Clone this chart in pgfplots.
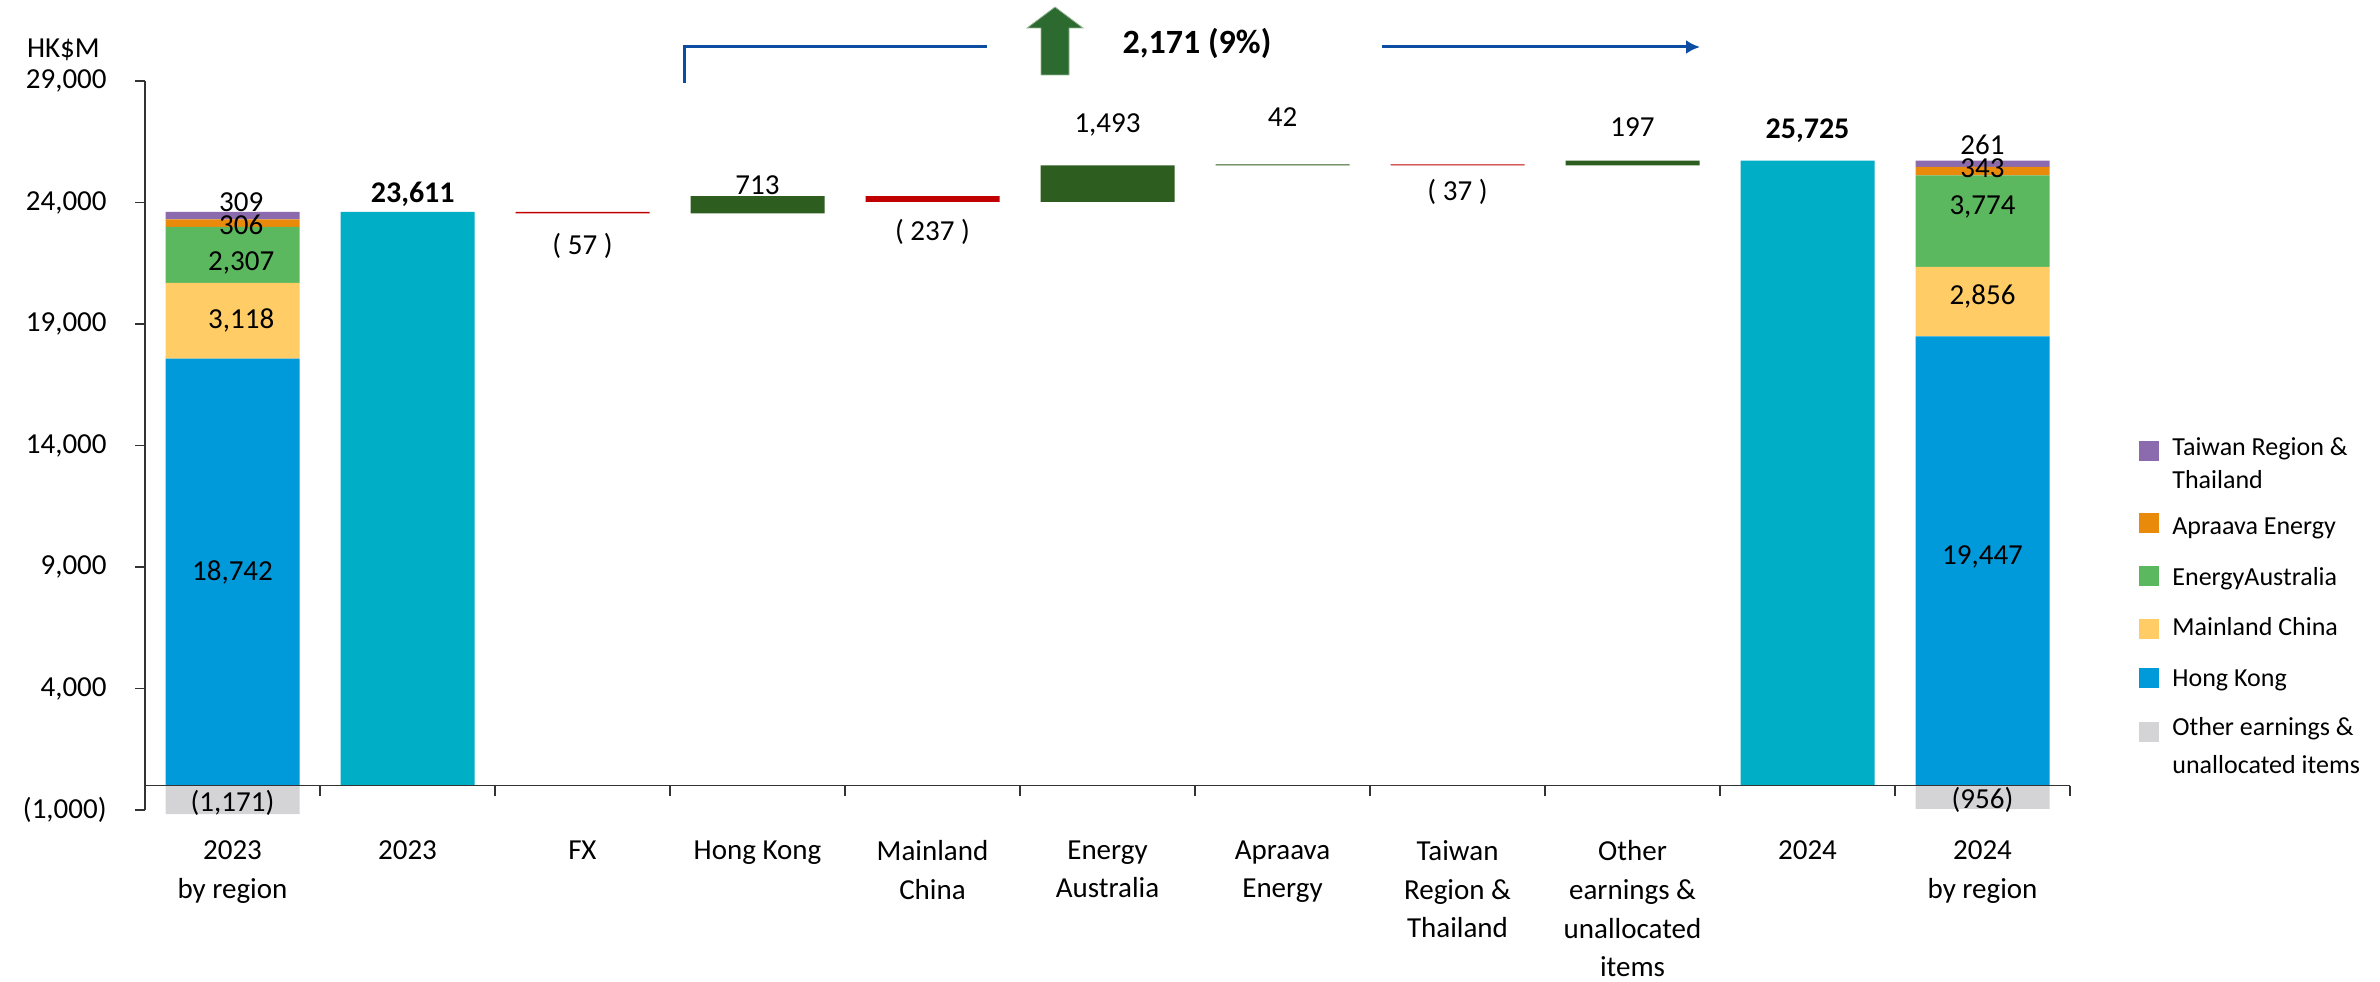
\documentclass[border=0pt]{standalone}
\usepackage{pgfplots}
\pgfplotsset{compat=1.18}
\usetikzlibrary{arrows.meta}
\usepackage{fontspec}
\setmainfont{Carlito}

\definecolor{totalteal}{HTML}{00AEC6}
\definecolor{hkblue}{HTML}{009ADA}
\definecolor{mcyellow}{HTML}{FFCC66}
\definecolor{eagreen}{HTML}{5CB85E}
\definecolor{aporange}{HTML}{EA8A0B}
\definecolor{twpurple}{HTML}{8B6BAD}
\definecolor{othgray}{HTML}{D4D4D6}
\definecolor{upgreen}{HTML}{2E5E1F}
\definecolor{downred}{HTML}{C00000}
\definecolor{arrowblue}{HTML}{0D4DA1}
\definecolor{arrowgreen}{HTML}{2C6A2F}

\newcommand{\lab}{\fontsize{14.5}{17}\selectfont}
\newcommand{\blab}{\fontsize{15}{18}\selectfont\bfseries}

\begin{document}
\begin{tikzpicture}[x=1pt,y=1pt]
\useasboundingbox (0,0) rectangle (1190,490.5);

\pgfplotsset{
  wf/.style={
    width=962.5pt, height=364.5pt, scale only axis,
    at={(72.5pt,85.5pt)}, anchor=south west,
    xmin=-0.5, xmax=10.5, ymin=-1000, ymax=29000,
    clip=false,
  },
}

% negative "other earnings" parts, below zero
\begin{axis}[wf, hide axis, ybar, bar width=67pt, bar shift=0pt]
  \addplot[fill=othgray, draw=none] coordinates {(0,-1171) (10,-956)};
\end{axis}

\begin{axis}[wf,
    ybar stacked, bar width=67pt,
    axis y line*=left, axis x line*=bottom,
    x axis line style={draw=none},
    y axis line style={line width=0.6pt, black!80},
    tick align=outside,
    major tick length=5pt,
    scaled y ticks=false,
    ytick={-1000,4000,9000,14000,19000,24000,29000},
    yticklabels={{(1,000)},{4,000},{9,000},{14,000},{19,000},{24,000},{29,000}},
    ytick style={line width=0.6pt, black!80},
    yticklabel style={font=\lab, inner sep=0pt, xshift=-14pt},
    xtick={0,...,10},
    xtick style={draw=none},
    xticklabels={{2023\\by region},{2023},{FX},{Hong Kong},{Mainland\\China},
      {Energy\\Australia},{Apraava\\Energy},{Taiwan\\Region \&\\Thailand},
      {Other\\earnings \&\\unallocated\\items},{2024},{2024\\by region}},
    xticklabel style={font=\fontsize{14.5}{19.4}\selectfont, align=center,
      inner sep=0pt, anchor=north, yshift=-10pt},
  ]
  % invisible base of the floating bars
  \addplot[fill=none, draw=none] coordinates {
    (0,0) (1,0) (2,23554) (3,23554) (4,24030) (5,24030)
    (6,25523) (7,25528) (8,25528) (9,0) (10,0)};
  % increases
  \addplot[fill=upgreen, draw=none] coordinates {
    (0,0) (1,0) (2,0) (3,713) (4,0) (5,1493)
    (6,42) (7,0) (8,197) (9,0) (10,0)};
  % decreases
  \addplot[fill=downred, draw=none] coordinates {
    (0,0) (1,0) (2,57) (3,0) (4,237) (5,0)
    (6,0) (7,37) (8,0) (9,0) (10,0)};
  % totals
  \addplot[fill=totalteal, draw=none] coordinates {
    (0,0) (1,23611) (2,0) (3,0) (4,0) (5,0)
    (6,0) (7,0) (8,0) (9,25725) (10,0)};
  % by region: Hong Kong drawn net of the negative other items
  \addplot[fill=hkblue, draw=none] coordinates {
    (0,17571) (1,0) (2,0) (3,0) (4,0) (5,0)
    (6,0) (7,0) (8,0) (9,0) (10,18491)};
  \addplot[fill=mcyellow, draw=none] coordinates {
    (0,3118) (1,0) (2,0) (3,0) (4,0) (5,0)
    (6,0) (7,0) (8,0) (9,0) (10,2856)};
  \addplot[fill=eagreen, draw=none] coordinates {
    (0,2307) (1,0) (2,0) (3,0) (4,0) (5,0)
    (6,0) (7,0) (8,0) (9,0) (10,3774)};
  \addplot[fill=aporange, draw=none] coordinates {
    (0,306) (1,0) (2,0) (3,0) (4,0) (5,0)
    (6,0) (7,0) (8,0) (9,0) (10,343)};
  \addplot[fill=twpurple, draw=none] coordinates {
    (0,309) (1,0) (2,0) (3,0) (4,0) (5,0)
    (6,0) (7,0) (8,0) (9,0) (10,261)};
\end{axis}

% overlay: zero line and data labels on top of the bars
\begin{axis}[wf, hide axis]
  \draw[line width=0.6pt, black!80] (axis cs:-0.5,0) -- (axis cs:10.5,0);
  \pgfplotsinvokeforeach{-0.5,0.5,1.5,2.5,3.5,4.5,5.5,6.5,7.5,8.5,9.5,10.5}{
    \draw[line width=0.6pt, black!80] (axis cs:#1,0) -- ([yshift=-5pt]axis cs:#1,0);
  }
  \node[font=\lab] at (axis cs:0.05,24021) {309};
  \node[font=\lab] at (axis cs:0.05,23074) {306};
  \node[font=\lab] at (axis cs:0.05,21510) {2,307};
  \node[font=\lab] at (axis cs:0.05,19165) {3,118};
  \node[font=\lab] at (axis cs:0,8794) {18,742};
  \node[font=\lab] at (axis cs:0,-712) {(1,171)};
  \node[font=\blab] at (axis cs:1.03,24350) {23,611};
  \node[font=\lab] at (axis cs:2,22210) {( 57 )};
  \node[font=\lab] at (axis cs:3,24720) {713};
  \node[font=\lab] at (axis cs:4,22786) {( 237 )};
  \node[font=\lab] at (axis cs:5,27189) {1,493};
  \node[font=\lab] at (axis cs:6,27519) {42};
  \node[font=\lab] at (axis cs:7,24432) {( 37 )};
  \node[font=\lab] at (axis cs:8,27107) {197};
  \node[font=\blab] at (axis cs:9,26942) {25,725};
  \node[font=\lab] at (axis cs:10,26366) {261};
  \node[font=\lab] at (axis cs:10,25419) {343};
  \node[font=\lab] at (axis cs:10,23815) {3,774};
  \node[font=\lab] at (axis cs:10,20152) {2,856};
  \node[font=\lab] at (axis cs:10,9411) {19,447};
  \node[font=\lab] at (axis cs:10,-588) {(956)};
\end{axis}

% unit
\node[font=\lab, anchor=base west] at (10,461.5) {HK\$M};

% overall change annotation
\draw[arrowblue, line width=1.5pt] (342,449) -- (342,467) -- (493.5,467);
\draw[arrowblue, line width=1.5pt, -{Latex[length=7pt,width=7pt]}] (691,467) -- (850,467);
\fill[arrowgreen, draw=arrowgreen!50!white, line width=0.4pt]
  (520.5,453) -- (534.5,453) -- (534.5,476.5) -- (541.5,476.5) -- (527.5,487)
  -- (513.5,476.5) -- (520.5,476.5) -- cycle;
\node[font=\fontsize{17}{20}\selectfont\bfseries] at (598.5,469) {2,171 (9\%)};

% legend
\fill[twpurple] (1069.5,260) rectangle (1079.5,270);
\node[font=\fontsize{13}{16}\selectfont, anchor=base west, inner sep=0pt] at (1086,262.5) {Taiwan Region \&};
\node[font=\fontsize{13}{16}\selectfont, anchor=base west, inner sep=0pt] at (1086,246.5) {Thailand};
\fill[aporange] (1069.5,224) rectangle (1079.5,234);
\node[font=\fontsize{13}{16}\selectfont, anchor=base west, inner sep=0pt] at (1086,223.5) {Apraava Energy};
\fill[eagreen] (1069.5,197.5) rectangle (1079.5,207.5);
\node[font=\fontsize{13}{16}\selectfont, anchor=base west, inner sep=0pt] at (1086,198) {EnergyAustralia};
\fill[mcyellow] (1069.5,171) rectangle (1079.5,181);
\node[font=\fontsize{13}{16}\selectfont, anchor=base west, inner sep=0pt] at (1086,173) {Mainland China};
\fill[hkblue] (1069.5,146.5) rectangle (1079.5,156.5);
\node[font=\fontsize{13}{16}\selectfont, anchor=base west, inner sep=0pt] at (1086,147.5) {Hong Kong};
\fill[othgray] (1069.5,119.5) rectangle (1079.5,129.5);
\node[font=\fontsize{13}{16}\selectfont, anchor=base west, inner sep=0pt] at (1086,123) {Other earnings \&};
\node[font=\fontsize{13}{16}\selectfont, anchor=base west, inner sep=0pt] at (1086,104) {unallocated items};
\end{tikzpicture}
\end{document}
